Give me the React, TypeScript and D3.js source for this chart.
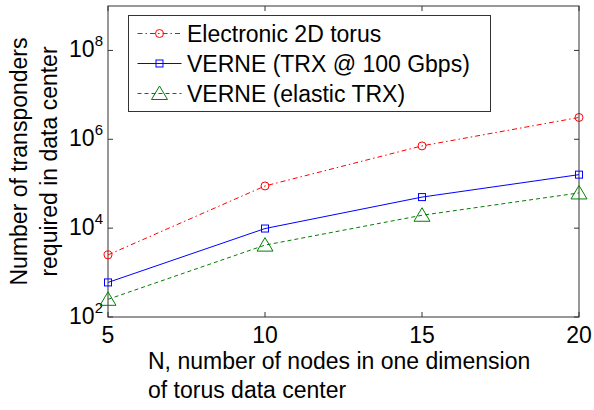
import React from "react";
import * as d3 from "d3";

const nodes = [5, 10, 15, 20];
const electronic = [2500, 89000, 710000, 3100000];
const verneFixed = [600, 9800, 50000, 160000];
const verneElastic = [250, 4150, 19500, 62000];
const yTickPowers = [2, 4, 6, 8];
const seriesNames = ["Electronic 2D torus", "VERNE (TRX @ 100 Gbps)", "VERNE (elastic TRX)"];

const width = 594;
const height = 410;
const margin = { left: 108, right: 15, top: 6, bottom: 93 };
const font = "Liberation Sans, Arial, sans-serif";
const fs = 23;

const series = [
  { name: seriesNames[0], values: electronic, color: "#ff0000", dash: "5,3,1.5,3", marker: "circle" },
  { name: seriesNames[1], values: verneFixed, color: "#0000ff", dash: "", marker: "square" },
  { name: seriesNames[2], values: verneElastic, color: "#008000", dash: "4,3", marker: "triangle" },
];

const Marker = ({ type, x, y, color }: { type: string; x: number; y: number; color: string }) => {
  if (type === "circle") return <circle cx={x} cy={y} r={4} fill="none" stroke={color} strokeWidth={1} />;
  if (type === "square")
    return <rect x={x - 3.5} y={y - 3.5} width={7} height={7} fill="none" stroke={color} strokeWidth={1} />;
  return (
    <path
      d={`M${x},${y - 7.5}L${x + 8},${y + 6}L${x - 8},${y + 6}Z`}
      fill="none"
      stroke={color}
      strokeWidth={1}
    />
  );
};

export default function App() {
  const x = d3.scaleLinear().domain([5, 20]).range([margin.left, width - margin.right]);
  const y = d3.scaleLog().domain([1e2, 1e9]).range([height - margin.bottom, margin.top]);
  const [x0, x1] = x.range();
  const [yb, yt] = y.range();
  const line = d3
    .line<number>()
    .x((_, i) => x(nodes[i]))
    .y((d) => y(d));
  const axisColor = "#333";
  const tick = 5;

  return (
    <svg width={width} height={height} style={{ position: "absolute", left: 0, top: 0 }} fontFamily={font}>
      <rect x={0} y={0} width={width} height={height} fill="#fff" />
      <rect x={x0} y={yt} width={x1 - x0} height={yb - yt} fill="#fff" stroke={axisColor} strokeWidth={1} />

      {nodes.map((n) => (
        <g key={n}>
          <line x1={x(n)} x2={x(n)} y1={yb} y2={yb - tick} stroke={axisColor} />
          <line x1={x(n)} x2={x(n)} y1={yt} y2={yt + tick} stroke={axisColor} />
          <text x={x(n)} y={yb + 26} textAnchor="middle" fontSize={fs} fill="#000">
            {n}
          </text>
        </g>
      ))}

      {yTickPowers.map((p) => {
        const v = Math.pow(10, p);
        return (
          <g key={p}>
            <line x1={x0} x2={x0 + tick} y1={y(v)} y2={y(v)} stroke={axisColor} />
            <line x1={x1} x2={x1 - tick} y1={y(v)} y2={y(v)} stroke={axisColor} />
            <text x={x0 - 5} y={y(v) + 7} textAnchor="end" fontSize={fs} fill="#000">
              10
              <tspan fontSize={15} dy={-11}>
                {p}
              </tspan>
            </text>
          </g>
        );
      })}

      {series.map((s) => (
        <g key={s.name}>
          <path d={line(s.values) || ""} fill="none" stroke={s.color} strokeWidth={1} strokeDasharray={s.dash} />
          {s.values.map((v, i) => (
            <Marker key={i} type={s.marker} x={x(nodes[i])} y={y(v)} color={s.color} />
          ))}
        </g>
      ))}

      <g transform="translate(128.5,15.5)">
        <rect x={0} y={0} width={362} height={96} fill="#fff" stroke={axisColor} strokeWidth={1} />
        {series.map((s, i) => {
          const cy = 18 + i * 30;
          return (
            <g key={s.name}>
              <line x1={9} x2={53} y1={cy} y2={cy} stroke={s.color} strokeWidth={1} strokeDasharray={s.dash} />
              <Marker type={s.marker} x={31} y={cy} color={s.color} />
              <text x={58.5} y={cy + 8} fontSize={fs} fill="#000">
                {s.name}
              </text>
            </g>
          );
        })}
      </g>

      <text x={148} y={369} fontSize={fs} fill="#000">
        N, number of nodes in one dimension
      </text>
      <text x={148} y={398} fontSize={fs} fill="#000">
        of torus data center
      </text>

      <g transform={`translate(27,${(yb + yt) / 2}) rotate(-90)`}>
        <text x={0} y={0} textAnchor="middle" fontSize={fs} fill="#000">
          Number of transponders
        </text>
        <text x={0} y={30} textAnchor="middle" fontSize={fs} fill="#000">
          required in data center
        </text>
      </g>
    </svg>
  );
}
